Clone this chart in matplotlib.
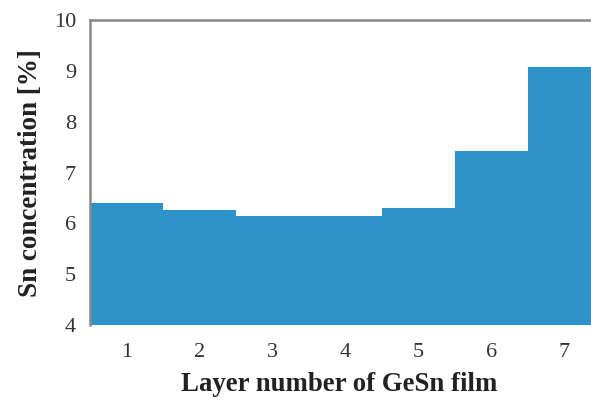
import numpy as np
import matplotlib
matplotlib.use("Agg")
import matplotlib.pyplot as plt

# data
layers = [1, 2, 3, 4, 5, 6, 7]
sn_conc = [6.41, 6.27, 6.15, 6.15, 6.31, 7.43, 9.09]

plt.rcParams['font.family'] = ['Liberation Serif', 'DejaVu Serif']

fig = plt.figure(figsize=(5.91, 4.05), dpi=100)
ax = fig.add_axes([0.1523, 0.1975, 0.8647, 0.752])

ax.bar(layers, np.array(sn_conc) - 4, bottom=4, width=1.0, color="#2e93c8", linewidth=0)

ax.set_xlim(0.5, 7.5)
ax.set_ylim(4, 10)
ax.set_xticks(layers)
ax.set_yticks(np.arange(4, 11, 1))
ax.tick_params(length=0, labelsize=16, colors="#333333", pad=10)
ax.tick_params(axis="x", pad=13)

for s in ["right", "bottom"]:
    ax.spines[s].set_visible(False)
for s in ["top", "left"]:
    ax.spines[s].set_color("#888888")
    ax.spines[s].set_linewidth(1.8)

ax.set_xlabel("Layer number of GeSn film", fontsize=19.3, fontweight="bold", color="#222222")
ax.xaxis.set_label_coords(0.487, -0.155)
ax.set_ylabel("Sn concentration [%]", fontsize=19.5, fontweight="bold", color="#222222", labelpad=8)

plt.savefig("out.png", dpi=100)
